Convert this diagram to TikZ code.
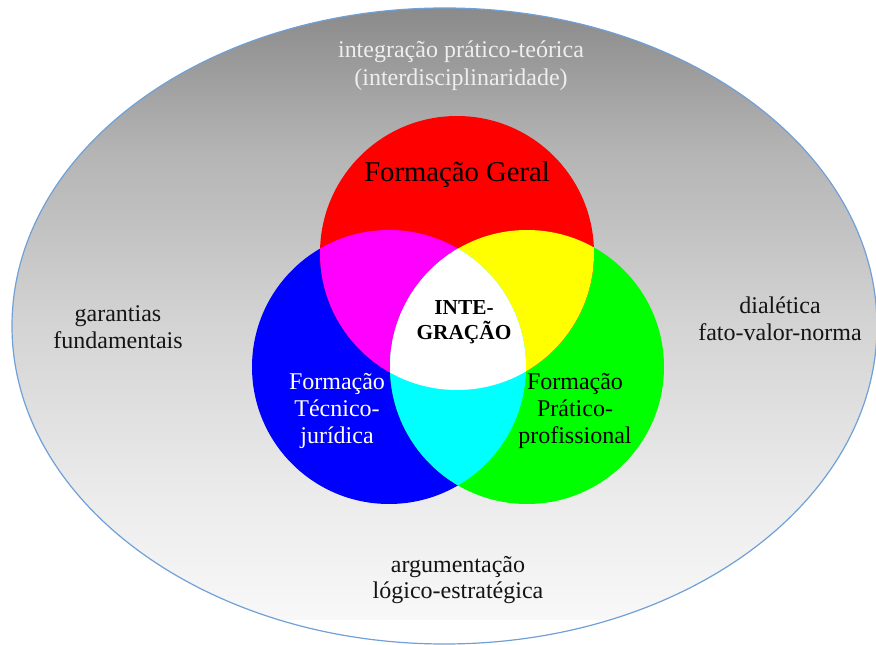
\documentclass[tikz,border=0pt]{standalone}
\usepackage{fontspec}
\setmainfont{Liberation Serif}
\definecolor{rimblue}{RGB}{111,160,216}
\definecolor{gA}{RGB}{136,136,136}
\definecolor{gB}{RGB}{180,180,180}
\definecolor{gC}{RGB}{212,212,212}
\definecolor{gD}{RGB}{236,236,236}
\definecolor{gE}{RGB}{248,248,248}
\definecolor{lighttxt}{RGB}{238,238,238}
\definecolor{darktxt}{RGB}{20,20,20}
\definecolor{pRed}{RGB}{255,0,0}
\definecolor{pGreen}{RGB}{0,255,0}
\definecolor{pBlue}{RGB}{0,0,255}
\definecolor{pMagenta}{RGB}{255,0,255}
\definecolor{pYellow}{RGB}{255,255,0}
\definecolor{pCyan}{RGB}{0,255,255}
\begin{document}
\begin{tikzpicture}[x=0.75pt,y=-0.75pt,
  outertxt/.style={align=center,text=darktxt,font=\fontsize{18}{20}\selectfont},
  toptxt/.style={align=center,text=lighttxt,font=\fontsize{18}{21}\selectfont},
  circtxt/.style={align=center,font=\fontsize{18}{20.6}\selectfont},
  geraltxt/.style={font=\fontsize{21.5}{24}\selectfont},
  integtxt/.style={align=center,font=\fontsize{16}{18.75}\selectfont\bfseries}]
\useasboundingbox (0,0) rectangle (876,645);
\coordinate (E) at (444.5,326);
\coordinate (R) at (457,253);
\coordinate (B) at (389,367);
\coordinate (G) at (527,367);
% outer ellipse with gradient
\fill[white] (E) ellipse [x radius=432.5, y radius=318];
\begin{scope}
  \clip (E) ellipse [x radius=432.5, y radius=318];
  \shade[top color=gA, bottom color=gB] (0,0) rectangle (876,150.5);
  \shade[top color=gB, bottom color=gC] (0,150) rectangle (876,325.5);
  \shade[top color=gC, bottom color=gD] (0,325) rectangle (876,500.5);
  \shade[top color=gD, bottom color=gE] (0,500) rectangle (876,620);
\end{scope}
\draw[rimblue, line width=0.9pt] (E) ellipse [x radius=432.5, y radius=318];
% circles
\fill[pBlue] (B) circle [radius=137];
\fill[pGreen] (G) circle [radius=137];
\fill[pRed] (R) circle [radius=137];
\begin{scope}
  \clip (R) circle [radius=137];
  \fill[pMagenta] (B) circle [radius=137];
  \fill[pYellow] (G) circle [radius=137];
\end{scope}
\begin{scope}
  \clip (B) circle [radius=137];
  \fill[pCyan] (G) circle [radius=137];
  \clip (G) circle [radius=137];
  \fill[white] (R) circle [radius=137];
\end{scope}
% texts
\node[toptxt] (top) at (461,66) {integração prático-teórica\\(interdisciplinaridade)};
\node[outertxt] (left) at (118,327.5) {garantias\\fundamentais};
\node[outertxt] (right) at (780,318.5) {dialética\\fato-valor-norma};
\node[outertxt] (bottom) at (458,580) {argumentação\\lógico-estratégica};
\node[geraltxt] (geral) at (457,175) {Formação Geral};
\node[integtxt] (integ) at (464,322) {INTE-\\GRAÇÃO};
\node[circtxt, text=white] (tecnico) at (337,411) {Formação\\Técnico-\\jurídica};
\node[circtxt, text=black] (pratico) at (575,411) {Formação\\Prático-\\profissional};
\end{tikzpicture}
\end{document}
